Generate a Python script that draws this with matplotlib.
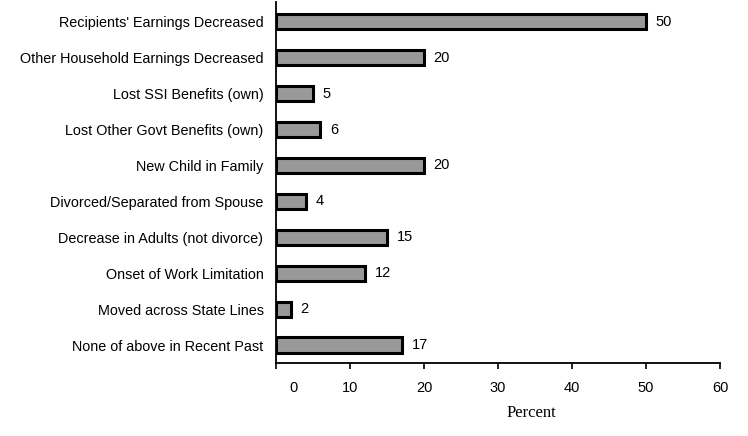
import matplotlib
matplotlib.use('Agg')
import matplotlib.pyplot as plt
import matplotlib.transforms as mtransforms

# 数据
categories = ["Recipients' Earnings Decreased",
              "Other Household Earnings Decreased",
              "Lost SSI Benefits (own)",
              "Lost Other Govt Benefits (own)",
              "New Child in Family",
              "Divorced/Separated from Spouse",
              "Decrease in Adults (not divorce)",
              "Onset of Work Limitation",
              "Moved across State Lines",
              "None of above in Recent Past"]
values = [50, 20, 5, 6, 20, 4, 15, 12, 2, 17]
xticks = [0, 10, 20, 30, 40, 50, 60]

plt.rcParams['font.family'] = ['Liberation Sans', 'DejaVu Sans']

fig = plt.figure(figsize=(7.48, 4.36), dpi=100)
ax = fig.add_axes([276 / 748, 1 - 363 / 436, (720 - 276) / 748, 361 / 436])

pos = list(range(len(categories)))
ax.barh(pos, values, height=0.42, color='#999999', edgecolor='black', linewidth=2.2)

# 数值标签
for y, v in zip(pos, values):
    ax.text(v + 1.3, y, str(v), va='center', ha='left', fontsize=10.5)

ax.set_xlim(0, 60)
ax.set_ylim(9.5, -0.55)
ax.set_xticks(xticks)
ax.set_xticklabels([str(t) for t in xticks])
ax.set_yticks(pos)
ax.set_yticklabels(categories)
ax.tick_params(axis='y', length=0, pad=9, labelsize=10.4)
ax.tick_params(axis='x', length=4, width=1.2, pad=9, labelsize=10.5, direction='out')

# 第一个刻度标签往右挪
lbl0 = ax.get_xticklabels()[0]
lbl0.set_transform(lbl0.get_transform() + mtransforms.ScaledTranslation(17 / 100, 0, fig.dpi_scale_trans))

for s in ['top', 'right']:
    ax.spines[s].set_visible(False)
ax.spines['left'].set_linewidth(1.3)
ax.spines['bottom'].set_linewidth(1.3)

ax.set_xlabel('Percent', family='Liberation Serif', fontsize=12)
ax.xaxis.set_label_coords((531 - 276) / 444, -0.117)

fig.savefig('out.png', dpi=100)
